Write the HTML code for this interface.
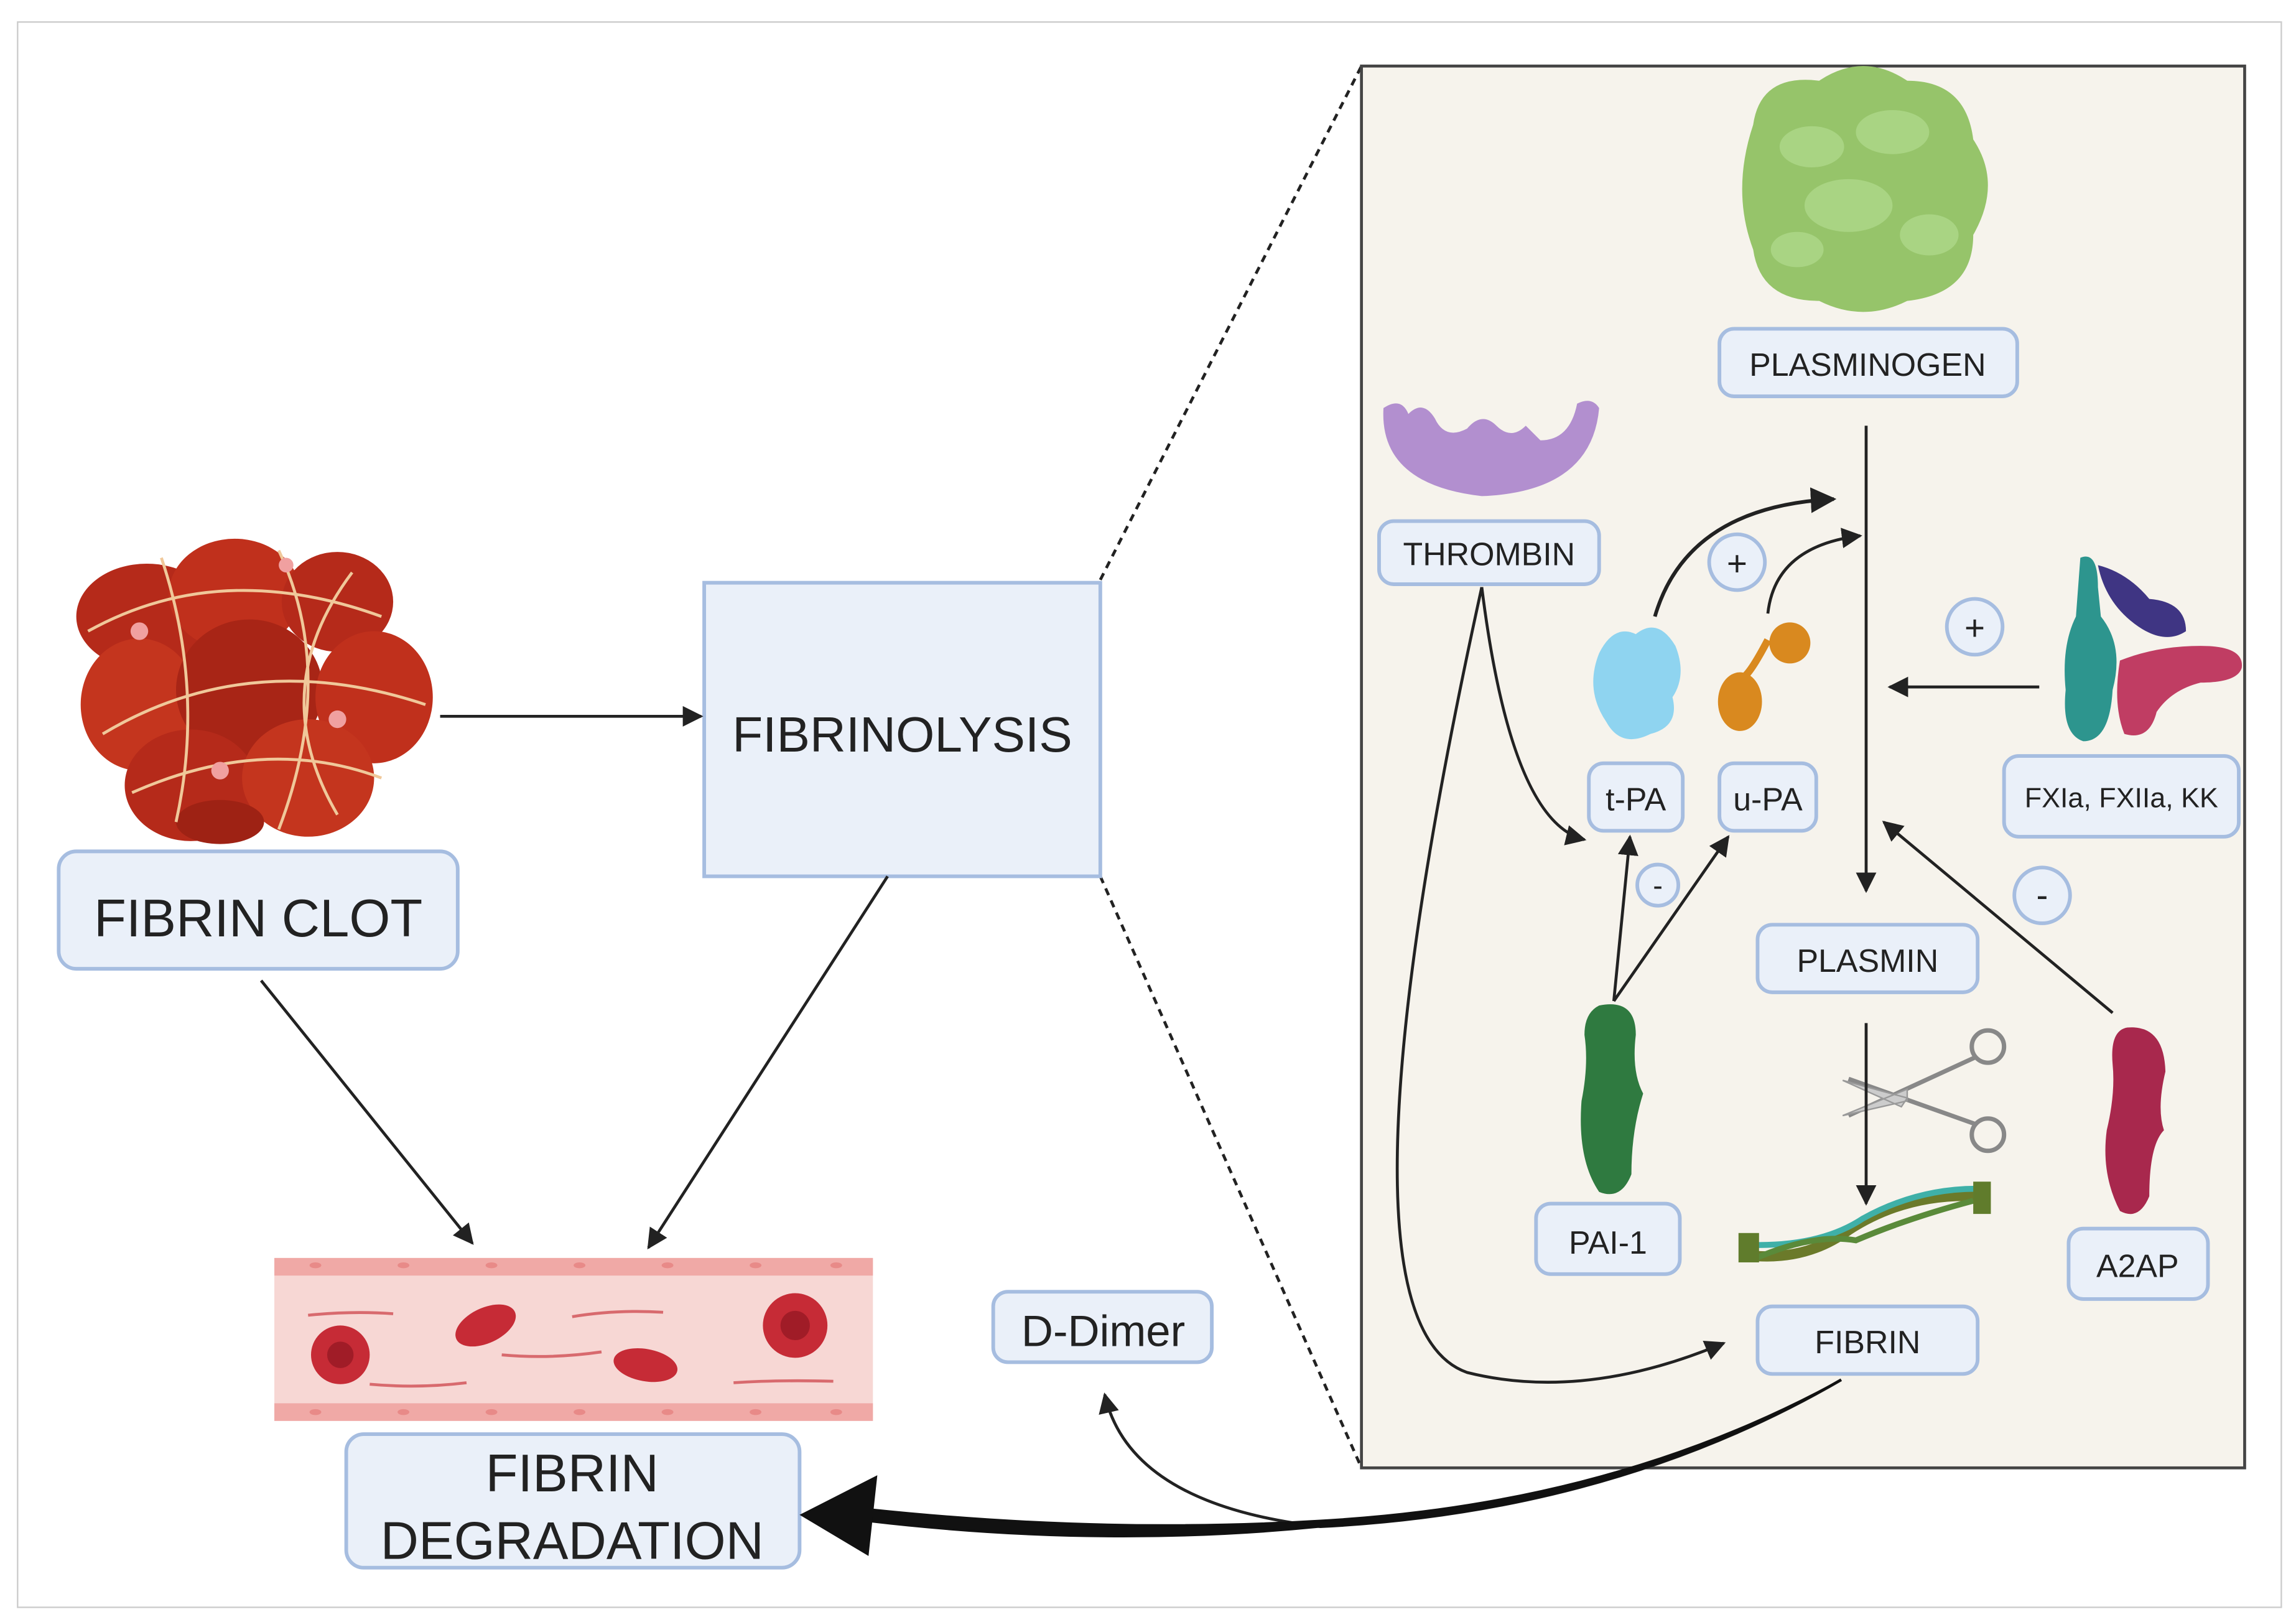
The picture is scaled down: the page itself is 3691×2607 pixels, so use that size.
<!DOCTYPE html>
<html><head><meta charset="utf-8"><style>
html,body{margin:0;padding:0;background:#fff;width:3691px;height:2607px;overflow:hidden}
svg{display:block}
text{font-family:"Liberation Sans",sans-serif;fill:#222}
</style></head><body>
<svg width="3691" height="2607" viewBox="0 0 1565 1105" preserveAspectRatio="none">
<defs>
<marker id="a" viewBox="0 0 10 10" refX="9" refY="5" markerWidth="7" markerHeight="7" orient="auto"><path d="M0,0L10,5L0,10z" fill="#222"/></marker>
<marker id="s" viewBox="0 0 10 10" refX="9" refY="5" markerWidth="5" markerHeight="5" orient="auto"><path d="M0,0L10,5L0,10z" fill="#222"/></marker>
</defs>
<rect x="12" y="15" width="1543" height="1080" fill="#fff" stroke="#ccc" stroke-width="1"/>
<!-- dashed zoom lines -->
<line x1="750" y1="395" x2="928" y2="45" stroke="#222" stroke-width="2" stroke-dasharray="5,4"/>
<line x1="750" y1="597" x2="928" y2="1000" stroke="#222" stroke-width="2" stroke-dasharray="5,4"/>
<!-- right panel -->
<rect x="928" y="45" width="602" height="955" fill="#f6f3ec" stroke="#444" stroke-width="2"/>

<!-- clot -->
<g>
<ellipse cx="100" cy="420" rx="48" ry="36" fill="#b52a1a"/>
<ellipse cx="160" cy="405" rx="45" ry="38" fill="#c0301c"/>
<ellipse cx="230" cy="410" rx="38" ry="34" fill="#b52a1a"/>
<ellipse cx="95" cy="480" rx="40" ry="45" fill="#c4351e"/>
<ellipse cx="170" cy="470" rx="50" ry="48" fill="#a82516"/>
<ellipse cx="255" cy="475" rx="40" ry="45" fill="#c0301c"/>
<ellipse cx="130" cy="535" rx="45" ry="38" fill="#b52a1a"/>
<ellipse cx="210" cy="530" rx="45" ry="40" fill="#c4351e"/>
<ellipse cx="150" cy="560" rx="30" ry="15" fill="#9e2214"/>
<path d="M60,430 Q150,380 260,420 M70,500 Q170,440 290,480 M110,380 Q140,470 120,560 M190,375 Q230,460 190,565 M90,540 Q180,500 260,530 M240,390 Q180,470 230,555" stroke="#f0c89a" stroke-width="2" fill="none"/>
<circle cx="95" cy="430" r="6" fill="#f0a0a0"/><circle cx="230" cy="490" r="6" fill="#f0a0a0"/><circle cx="150" cy="525" r="6" fill="#f0a0a0"/><circle cx="195" cy="385" r="5" fill="#f0a0a0"/>
</g>

<!-- boxes left -->
<rect x="40" y="580" width="272" height="80" rx="12" fill="#eaf0f9" stroke="#a6bde0" stroke-width="2.5"/>
<text x="176" y="638" font-size="36" text-anchor="middle">FIBRIN CLOT</text>
<rect x="480" y="397" width="270" height="200" fill="#eaf0f9" stroke="#a6bde0" stroke-width="2.5"/>
<text x="615" y="512" font-size="34" text-anchor="middle">FIBRINOLYSIS</text>

<!-- vessel -->
<rect x="187" y="857" width="408" height="111" fill="#f7d7d4"/>
<rect x="187" y="857" width="408" height="12" fill="#f0a9a6"/>
<rect x="187" y="956" width="408" height="12" fill="#f0a9a6"/>
<g fill="#e88a88"><ellipse cx="215" cy="862" rx="4" ry="2"/><ellipse cx="275" cy="862" rx="4" ry="2"/><ellipse cx="335" cy="862" rx="4" ry="2"/><ellipse cx="395" cy="862" rx="4" ry="2"/><ellipse cx="455" cy="862" rx="4" ry="2"/><ellipse cx="515" cy="862" rx="4" ry="2"/><ellipse cx="570" cy="862" rx="4" ry="2"/>
<ellipse cx="215" cy="962" rx="4" ry="2"/><ellipse cx="275" cy="962" rx="4" ry="2"/><ellipse cx="335" cy="962" rx="4" ry="2"/><ellipse cx="395" cy="962" rx="4" ry="2"/><ellipse cx="455" cy="962" rx="4" ry="2"/><ellipse cx="515" cy="962" rx="4" ry="2"/><ellipse cx="570" cy="962" rx="4" ry="2"/></g>
<g fill="#c62b36"><circle cx="232" cy="923" r="20"/><ellipse cx="331" cy="903" rx="22" ry="12" transform="rotate(-25 331 903)"/><ellipse cx="440" cy="930" rx="22" ry="11" transform="rotate(10 440 930)"/><circle cx="542" cy="903" r="22"/></g>
<g fill="#a01c27"><circle cx="232" cy="923" r="9"/><circle cx="542" cy="903" r="10"/></g>
<g stroke="#d86a6e" stroke-width="2" fill="none"><path d="M210,896 Q240,893 268,895"/><path d="M390,897 Q420,892 452,894"/><path d="M252,943 Q285,946 318,942"/><path d="M342,923 Q375,926 410,921"/><path d="M500,942 Q530,940 568,941"/></g>

<rect x="236" y="977" width="309" height="91" rx="12" fill="#eaf0f9" stroke="#a6bde0" stroke-width="2.5"/>
<text x="390" y="1016" font-size="36" text-anchor="middle">FIBRIN</text>
<text x="390" y="1062" font-size="36" text-anchor="middle">DEGRADATION</text>
<rect x="677" y="880" width="149" height="48" rx="10" fill="#eaf0f9" stroke="#a6bde0" stroke-width="2.5"/>
<text x="752" y="917" font-size="30" text-anchor="middle">D-Dimer</text>

<!-- left arrows -->
<g stroke="#222" stroke-width="2" fill="none" marker-end="url(#a)">
<line x1="300" y1="488" x2="478" y2="488"/>
<line x1="178" y1="668" x2="322" y2="847"/>
<line x1="605" y1="597" x2="442" y2="850"/>
</g>

<!-- plasminogen blob -->
<path d="M1195,85 Q1200,50 1240,55 Q1270,35 1300,55 Q1340,55 1345,95 Q1365,125 1345,160 Q1345,200 1300,205 Q1270,220 1240,205 Q1200,205 1195,170 Q1180,130 1195,85z" fill="#96c46a"/>
<g fill="#aed88a" opacity="0.8"><ellipse cx="1235" cy="100" rx="22" ry="14"/><ellipse cx="1290" cy="90" rx="25" ry="15"/><ellipse cx="1260" cy="140" rx="30" ry="18"/><ellipse cx="1315" cy="160" rx="20" ry="14"/><ellipse cx="1225" cy="170" rx="18" ry="12"/></g>
<!-- thrombin -->
<path d="M943,278 Q940,330 1010,338 Q1085,335 1090,278 Q1085,270 1075,275 Q1070,300 1050,300 L1040,290 Q1030,300 1020,290 Q1010,280 1000,292 Q985,300 978,285 Q970,272 960,282 Q955,270 943,278z" fill="#b28fcf"/>
<!-- tPA -->
<path d="M1090,445 Q1100,425 1115,432 Q1130,420 1142,440 Q1150,460 1140,475 Q1145,495 1125,500 Q1105,510 1095,492 Q1080,470 1090,445z" fill="#8fd4f0"/>
<!-- uPA -->
<circle cx="1220" cy="438" r="14" fill="#d9891f"/><path d="M1205,436 Q1195,455 1190,460" stroke="#d9891f" stroke-width="5" fill="none"/><ellipse cx="1186" cy="478" rx="15" ry="20" fill="#d9891f"/>
<!-- FX complex -->
<path d="M1418,380 Q1430,375 1430,400 L1432,420 Q1448,440 1440,470 Q1438,505 1420,505 Q1405,500 1408,470 Q1405,440 1415,420z" fill="#2d958e"/>
<path d="M1430,385 Q1450,390 1465,408 Q1490,410 1490,430 Q1475,440 1455,425 Q1435,410 1430,385z" fill="#3f3583"/>
<path d="M1445,450 Q1470,440 1500,440 Q1530,440 1528,455 Q1525,465 1500,465 Q1480,470 1470,485 Q1465,505 1448,500 Q1440,480 1445,450z" fill="#c03d63"/>
<!-- PAI-1 -->
<path d="M1090,685 Q1115,680 1115,705 Q1112,730 1120,745 Q1112,770 1112,800 Q1105,818 1090,812 Q1075,790 1078,750 Q1083,725 1080,705 Q1080,690 1090,685z" fill="#2f7a40"/>
<!-- A2AP -->
<path d="M1450,700 Q1475,698 1476,730 Q1470,755 1475,770 Q1465,780 1465,815 Q1458,832 1445,825 Q1432,800 1436,770 Q1442,745 1440,725 Q1438,702 1450,700z" fill="#a8284d"/>
<!-- scissors -->
<g stroke="#888" fill="none" stroke-width="3"><circle cx="1355" cy="713" r="11"/><circle cx="1355" cy="773" r="11"/><line x1="1347" y1="720" x2="1260" y2="760"/><line x1="1347" y1="766" x2="1260" y2="735"/></g>
<path d="M1256,736 L1300,748 L1296,754z M1256,760 L1300,742 L1300,750z" fill="#ccc" stroke="#999"/>
<!-- fibrin strand -->
<path d="M1190,855 Q1230,860 1260,838 Q1300,812 1350,815" stroke="#6b7a2a" stroke-width="7" fill="none"/>
<path d="M1190,848 Q1240,850 1270,830 Q1310,808 1355,810" stroke="#3fb0a8" stroke-width="4" fill="none"/>
<path d="M1195,858 Q1235,840 1265,845 Q1300,830 1345,818" stroke="#5a8a3a" stroke-width="4" fill="none"/>
<rect x="1185" y="840" width="14" height="20" fill="#607c2c"/><rect x="1345" y="805" width="12" height="22" fill="#607c2c"/>

<!-- right boxes -->
<g fill="#eaf0f9" stroke="#a6bde0" stroke-width="2.5">
<rect x="1172" y="224" width="203" height="46" rx="10"/>
<rect x="940" y="355" width="150" height="43" rx="10"/>
<rect x="1083" y="520" width="64" height="46" rx="10"/>
<rect x="1172" y="520" width="66" height="46" rx="10"/>
<rect x="1366" y="515" width="160" height="55" rx="10"/>
<rect x="1198" y="630" width="150" height="46" rx="10"/>
<rect x="1047" y="820" width="98" height="48" rx="10"/>
<rect x="1198" y="890" width="150" height="46" rx="10"/>
<rect x="1410" y="837" width="95" height="48" rx="10"/>
<circle cx="1184" cy="383" r="19"/><circle cx="1346" cy="427" r="19"/><circle cx="1130" cy="603" r="14"/><circle cx="1392" cy="610" r="19"/>
</g>
<g font-size="22" text-anchor="middle">
<text x="1273" y="256">PLASMINOGEN</text>
<text x="1015" y="385">THROMBIN</text>
<text x="1115" y="552">t-PA</text>
<text x="1205" y="552">u-PA</text>
<text x="1446" y="550" font-size="19">FXIa, FXIIa, KK</text>
<text x="1273" y="662">PLASMIN</text>
<text x="1096" y="854">PAI-1</text>
<text x="1273" y="922">FIBRIN</text>
<text x="1457" y="870">A2AP</text>
<text x="1184" y="392" font-size="24">+</text>
<text x="1346" y="436" font-size="24">+</text>
<text x="1130" y="610" font-size="20">-</text>
<text x="1392" y="618" font-size="24">-</text>
</g>

<!-- right arrows -->
<g stroke="#222" stroke-width="2" fill="none">
<line x1="1272" y1="290" x2="1272" y2="607" marker-end="url(#a)"/>
<line x1="1272" y1="697" x2="1272" y2="820" marker-end="url(#a)"/>
<line x1="1390" y1="468" x2="1288" y2="468" marker-end="url(#a)"/>
<line x1="1440" y1="690" x2="1284" y2="560" marker-end="url(#a)"/>
<line x1="1100" y1="682" x2="1111" y2="570" marker-end="url(#a)"/>
<line x1="1100" y1="682" x2="1178" y2="570" marker-end="url(#a)"/>
<path d="M1010,400 Q1030,560 1080,572" marker-end="url(#a)"/>
<path d="M1010,400 Q900,900 1000,935 Q1080,955 1175,915" marker-end="url(#a)"/>
<path d="M1128,420 Q1150,345 1250,340" stroke-width="2.5" marker-end="url(#a)"/>
<path d="M1205,418 Q1210,372 1268,365" marker-end="url(#a)"/>
<path d="M1255,940 Q1100,1030 900,1040 Q770,1025 753,950" marker-end="url(#a)"/>
</g>
<!-- thick tapered arrow -->
<path d="M1255,940 Q1100,1030 900,1040 Q750,1055 590,1036 L590,1028 Q750,1045 900,1036 Q1100,1025 1255,940z" fill="#111" stroke="#111" stroke-width="1.5"/>
<path d="M545,1032 L598,1005 L592,1060z" fill="#111"/>
</svg>
</body></html>
